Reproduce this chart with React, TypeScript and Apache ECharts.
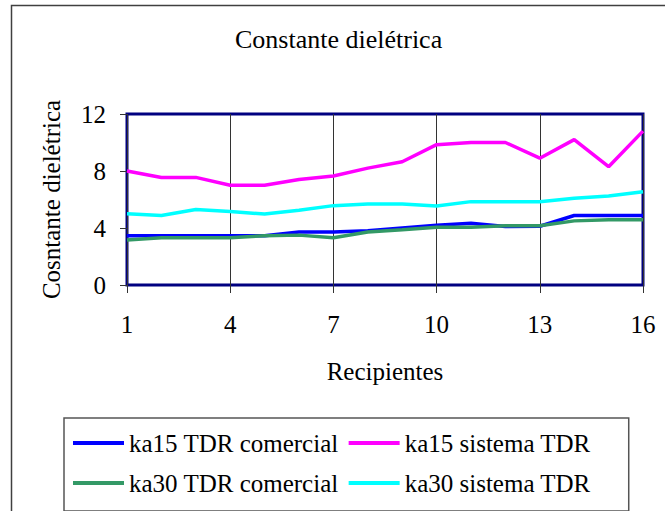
import React, { useEffect, useRef } from "react";
import * as echarts from "echarts";

const categories = ["1","2","3","4","5","6","7","8","9","10","11","12","13","14","15","16"];
const ka15Comercial = [3.45, 3.45, 3.45, 3.45, 3.45, 3.72, 3.72, 3.8, 4.0, 4.2, 4.33, 4.1, 4.12, 4.88, 4.88, 4.88];
const ka15Sistema = [8.0, 7.55, 7.55, 7.0, 7.0, 7.4, 7.65, 8.2, 8.65, 9.85, 10.0, 10.0, 8.9, 10.2, 8.3, 10.8];
const ka30Comercial = [3.15, 3.32, 3.32, 3.32, 3.46, 3.5, 3.32, 3.72, 3.88, 4.05, 4.05, 4.16, 4.16, 4.5, 4.58, 4.58];
const ka30Sistema = [5.0, 4.88, 5.3, 5.15, 4.98, 5.25, 5.57, 5.68, 5.68, 5.55, 5.85, 5.85, 5.85, 6.08, 6.25, 6.55];
const seriesNames = ["ka15 TDR comercial", "ka15 sistema TDR", "ka30 TDR comercial", "ka30 sistema TDR"];
const seriesColors = ["#0000FF", "#FF00FF", "#339966", "#00FFFF"];

const FONT = "Liberation Serif";

export default function App() {
  const ref = useRef<HTMLDivElement>(null);
  useEffect(() => {
    if (!ref.current) return;
    const chart = echarts.init(ref.current, undefined, { renderer: "svg" });
    const datasets = [ka15Comercial, ka15Sistema, ka30Comercial, ka30Sistema];
    chart.setOption({
      animation: false,
      backgroundColor: "#ffffff",
      textStyle: { fontFamily: FONT },
      title: {
        text: "Constante dielétrica",
        left: 235,
        top: 26,
        padding: 0,
        textStyle: { fontFamily: FONT, fontSize: 26, fontWeight: "normal", color: "#000" },
      },
      graphic: [
        {
          type: "rect",
          z: -10,
          shape: { x: 11.5, y: 5.5, width: 800, height: 800 },
          style: { fill: "none", stroke: "#404040", lineWidth: 1.5 },
        },
      ],
      grid: {
        left: 127,
        top: 114,
        width: 516,
        height: 171,
        show: true,
        borderColor: "#000080",
        borderWidth: 3,
        backgroundColor: "transparent",
      },
      legend: {
        data: seriesNames,
        left: 64,
        top: 418,
        orient: "horizontal",
        width: 560,
        padding: [10, 38, 13, 9],
        itemGap: 10,
        icon: "rect",
        itemWidth: 51,
        itemHeight: 4,
        borderColor: "#555",
        borderWidth: 1.5,
        textStyle: { fontFamily: FONT, fontSize: 25, color: "#000", lineHeight: 30 },
      },
      xAxis: {
        type: "category",
        data: categories,
        boundaryGap: false,
        name: "Recipientes",
        nameLocation: "middle",
        nameGap: 74,
        nameTextStyle: { fontFamily: FONT, fontSize: 25, color: "#000" },
        axisLine: { show: false },
        axisTick: { show: true, interval: 2, length: 8, lineStyle: { color: "#333", width: 1 } },
        axisLabel: { interval: 2, margin: 27, fontFamily: FONT, fontSize: 25, color: "#000" },
        splitLine: { show: true, interval: 2, lineStyle: { color: "#333", width: 1 } },
      },
      yAxis: {
        type: "value",
        min: 0,
        max: 12,
        interval: 4,
        name: "Cosntante dielétrica",
        nameLocation: "middle",
        nameGap: 63,
        nameRotate: 90,
        nameTextStyle: { fontFamily: FONT, fontSize: 25, color: "#000" },
        axisLine: { show: false },
        axisTick: { show: true, length: 7, lineStyle: { color: "#333", width: 1 } },
        axisLabel: { margin: 21, fontFamily: FONT, fontSize: 25, color: "#000" },
        splitLine: { show: false },
      },
      series: datasets.map((d, i) => ({
        name: seriesNames[i],
        type: "line",
        data: d,
        symbol: "none",
        smooth: false,
        color: seriesColors[i],
        itemStyle: { color: seriesColors[i] },
        lineStyle: { color: seriesColors[i], width: 3.5 },
      })),
    });
    return () => chart.dispose();
  }, []);
  return (
    <div
      ref={ref}
      style={{ position: "fixed", left: 0, top: 0, width: 665, height: 511, background: "#fff" }}
    />
  );
}
